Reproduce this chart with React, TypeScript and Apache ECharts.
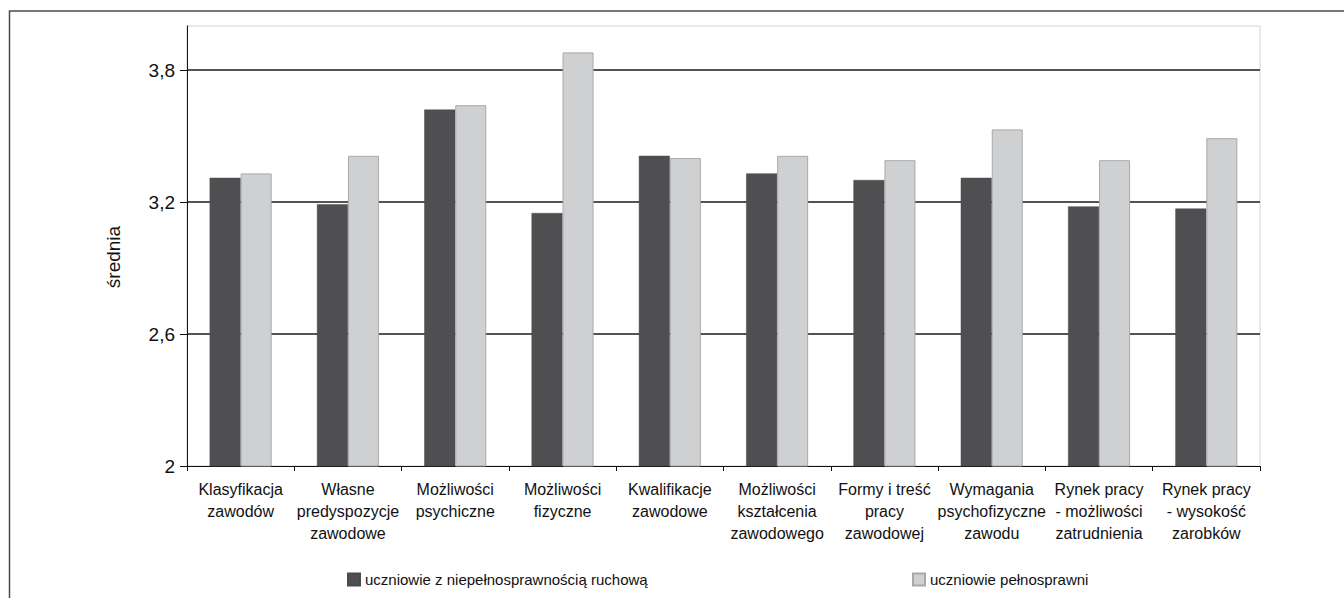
import React, { useEffect, useRef } from "react";
import * as echarts from "echarts";

// Category labels (x axis)
const categories: string[] = [
  "Klasyfikacja\nzawodów",
  "Własne\npredyspozycje\nzawodowe",
  "Możliwości\npsychiczne",
  "Możliwości\nfizyczne",
  "Kwalifikacje\nzawodowe",
  "Możliwości\nkształcenia\nzawodowego",
  "Formy i treść\npracy\nzawodowej",
  "Wymagania\npsychofizyczne\nzawodu",
  "Rynek pracy\n- możliwości\nzatrudnienia",
  "Rynek pracy\n- wysokość\nzarobków",
];

const seriesNames: string[] = [
  "uczniowie z niepełnosprawnością ruchową",
  "uczniowie pełnosprawni",
];

// Mean scores per group
const disabledValues: number[] = [3.31, 3.19, 3.62, 3.15, 3.41, 3.33, 3.3, 3.31, 3.18, 3.17];
const ableValues: number[] = [3.33, 3.41, 3.64, 3.88, 3.4, 3.41, 3.39, 3.53, 3.39, 3.49];

// Value axis range and step
const yMin = 2;
const yMax = 4;
const yStep = 0.6;
const yAxisTitle = "średnia";

const FONT = "'Liberation Sans', Arial, Helvetica, sans-serif";

export default function App() {
  const ref = useRef<HTMLDivElement>(null);

  useEffect(() => {
    document.body.style.margin = "0";
    if (!ref.current) return;
    const chart = echarts.init(ref.current, undefined, { renderer: "svg" });

    const legendText = { fontFamily: FONT, fontSize: 15, color: "#111" };

    const option: any = {
      animation: false,
      backgroundColor: "#ffffff",
      textStyle: { fontFamily: FONT, color: "#111" },
      grid: {
        left: 187,
        right: 84,
        top: 26,
        bottom: 132,
        show: true,
        borderColor: "#d2d2d2",
        borderWidth: 1,
        backgroundColor: "transparent",
      },
      legend: [
        {
          data: [seriesNames[0]],
          left: 347,
          top: 572,
          padding: 0,
          icon: "rect",
          itemWidth: 12,
          itemHeight: 12,
          textStyle: legendText,
        },
        {
          data: [seriesNames[1]],
          left: 912,
          top: 572,
          padding: 0,
          icon: "rect",
          itemWidth: 12,
          itemHeight: 12,
          textStyle: legendText,
        },
      ],
      xAxis: {
        type: "category",
        data: categories,
        axisLine: { show: true, lineStyle: { color: "#111", width: 1 } },
        axisTick: { show: true, alignWithLabel: false, length: 5, lineStyle: { color: "#111" } },
        axisLabel: {
          interval: 0,
          margin: 12,
          fontFamily: FONT,
          fontSize: 16,
          lineHeight: 22,
          color: "#111",
          align: "center",
        },
        splitLine: { show: false },
      },
      yAxis: {
        type: "value",
        min: yMin,
        max: yMax,
        interval: yStep,
        axisLine: { show: true, lineStyle: { color: "#111", width: 1 } },
        axisTick: { show: true, inside: false, length: 7, lineStyle: { color: "#111" } },
        axisLabel: {
          showMaxLabel: false,
          margin: 12,
          fontFamily: FONT,
          fontSize: 19,
          color: "#111",
          padding: [10, 0, 0, 0],
          formatter: (v: number) => {
            const r = Math.round(v * 10) / 10;
            return String(r).replace(".", ",");
          },
        },
        splitLine: {
          show: true,
          showMaxLine: false,
          showMinLine: false,
          lineStyle: { color: "#1a1a1a", width: 1.5 },
        },
      },
      series: [
        {
          name: seriesNames[0],
          type: "bar",
          data: disabledValues,
          barWidth: 31,
          barGap: "0%",
          itemStyle: { color: "#4f4f51", borderColor: "#4a4a4c", borderWidth: 0.5 },
        },
        {
          name: seriesNames[1],
          type: "bar",
          data: ableValues,
          barWidth: 31,
          barGap: "0%",
          itemStyle: { color: "#cfd0d2", borderColor: "#a9a9a9", borderWidth: 1 },
        },
      ],
      graphic: [
        {
          type: "rect",
          silent: true,
          shape: { x: 9.5, y: 11, width: 1500, height: 800 },
          style: { fill: "none", stroke: "#4a4a4a", lineWidth: 1.5 },
        },
        {
          type: "text",
          silent: true,
          x: 113,
          y: 257,
          rotation: Math.PI / 2,
          style: {
            text: yAxisTitle,
            fontFamily: FONT,
            fontSize: 19,
            fill: "#111",
            align: "center",
            verticalAlign: "middle",
          },
        },
      ],
    };

    chart.setOption(option);
    return () => chart.dispose();
  }, []);

  return <div ref={ref} style={{ width: 1344, height: 598 }} />;
}
